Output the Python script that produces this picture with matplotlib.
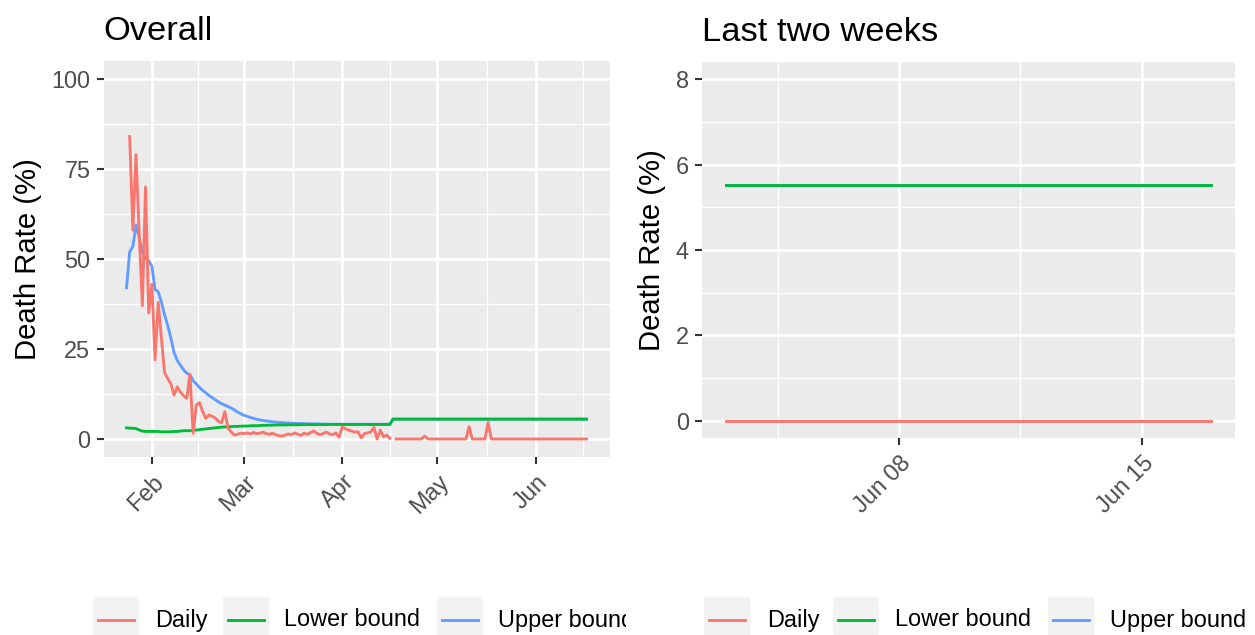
import numpy as np
import pandas as pd
import matplotlib
matplotlib.use('Agg')
import matplotlib.pyplot as plt
import matplotlib.dates as mdates
from matplotlib.patches import Rectangle
from matplotlib.lines import Line2D

plt.rcParams['font.family'] = ['Liberation Sans', 'DejaVu Sans']

nan = np.nan

# ---------- Data (Jan 24 - Jun 17 2020) ----------
dates = pd.date_range('2020-01-24', '2020-06-17', freq='D')

daily_jan = [nan, 84, 58, 79, 57, 37, 70, 35]
daily_feb = [43, 22, 38, 28, 18.5,
             16.8, 15.3, 12.2, 14.5, 13.0,
             12.0, 11.3, 18.0, 1.6, 9.4,
             10.1, 7.6, 5.7, 6.7, 6.3,
             5.8, 4.9, 4.5, 7.6, 3.0,
             2.0, 1.1, 1.3, 1.6]
daily_mar = [1.5, 1.7, 1.4, 1.8, 1.5,
             1.6, 1.9, 1.5, 1.3, 1.6,
             1.2, 0.9, 0.8, 1.1, 1.4,
             1.2, 1.7, 1.3, 1.0, 1.6,
             1.3, 1.8, 2.2, 1.6, 1.2,
             1.5, 1.9, 1.4, 1.2, 1.7,
             0.5]
daily_apr = [3.4, 2.8, 2.5, 2.2, 1.9,
             2.0, 0.3, 1.5, 1.7, 2.0,
             3.2, 0.0, 2.5, 0.6, 1.1,
             0.2, nan, 0, 0, 0,
             0, 0, 0, 0, 0,
             0, 0.8, 0, 0, 0]
daily_may = [0, 0, 0, 0, 0,
             0, 0, 0, 0, 0,
             3.4, 0, 0, 0, 0,
             0, 4.6, 0, 0, 0,
             0, 0, 0, 0, 0,
             0, 0, 0, 0, 0,
             0]
daily_jun = [0] * 17

upper_jan = [42, 52, 53.5, 59.5, 56, 52, 50.2, 49.5]
upper_feb = [48, 41.5, 40.9, 38, 34.5,
             31.5, 28, 24, 21.8, 20.5,
             19.2, 18.3, 17.8, 16.2, 15.3,
             14.3, 13.5, 12.8, 12.1, 11.5,
             10.9, 10.3, 9.8, 9.4, 9.0,
             8.6, 8.1, 7.5, 7.0]
upper_mar = [6.6, 6.3, 6.0, 5.75, 5.5,
             5.3, 5.15, 5.0, 4.9, 4.8,
             4.7, 4.6, 4.55, 4.5, 4.45,
             4.4, 4.35, 4.3, 4.3, 4.25,
             4.25, 4.2, 4.2, 4.2, 4.15,
             4.15, 4.15, 4.1, 4.1, 4.1,
             4.1]
upper_apr = [4.1] * 16 + [5.52] * 14
upper_may = [5.52] * 31
upper_jun = [5.52] * 17

lower_jan = [3.1, 3.0, 3.0, 2.9, 2.5, 2.2, 2.1, 2.1]
lower_feb = [2.1, 2.1, 2.1, 2.0, 2.0,
             2.0, 2.0, 2.1, 2.1, 2.2,
             2.3, 2.3, 2.3, 2.4, 2.5,
             2.6, 2.7, 2.8, 2.9, 3.0,
             3.1, 3.2, 3.3, 3.35, 3.4,
             3.45, 3.5, 3.5, 3.55]
lower_mar = [3.6, 3.6, 3.65, 3.7, 3.7,
             3.75, 3.8, 3.8, 3.85, 3.85,
             3.9, 3.9, 3.9, 3.9, 3.95,
             3.95, 3.95, 3.95, 4.0, 4.0,
             4.0, 4.0, 4.0, 4.0, 4.0,
             4.0, 4.0, 4.05, 4.05, 4.05,
             4.05]
lower_apr = [4.05] * 16 + [5.52] * 14
lower_may = [5.52] * 31
lower_jun = [5.52] * 17

daily = np.array(daily_jan + daily_feb + daily_mar + daily_apr + daily_may + daily_jun, dtype=float)
upper = np.array(upper_jan + upper_feb + upper_mar + upper_apr + upper_may + upper_jun, dtype=float)
lower = np.array(lower_jan + lower_feb + lower_mar + lower_apr + lower_may + lower_jun, dtype=float)

series_names = ['Daily', 'Lower bound', 'Upper bound']
colors = {'Daily': '#F8766D', 'Lower bound': '#00BA38', 'Upper bound': '#619CFF'}

W, H = 1255, 635
LW = 2.05


def px(x):
    return x / W


def py(y):
    return 1 - y / H


def style_panel(ax, title):
    ax.set_facecolor('#EBEBEB')
    for s in ax.spines.values():
        s.set_visible(False)
    ax.grid(which='major', color='white', linewidth=2.0)
    ax.grid(which='minor', color='white', linewidth=1.0)
    ax.set_axisbelow(True)
    ax.tick_params(which='major', length=5.3, width=1.5, color='#333333',
                   labelcolor='#4D4D4D', labelsize=16.9, pad=4.2)
    ax.tick_params(which='minor', length=0)
    ax.set_title(title, loc='left', fontsize=24.8, pad=15)
    ax.set_ylabel('Death Rate (%)', fontsize=21.1, labelpad=7)


def plot_lines(ax, d, dl, lo, up):
    # upper first so the lower bound covers it where they meet
    ax.plot(d, up, color=colors['Upper bound'], lw=LW, zorder=2)
    ax.plot(d, lo, color=colors['Lower bound'], lw=LW, zorder=3)
    ax.plot(d, dl, color=colors['Daily'], lw=LW, zorder=4)


def set_date_axis(ax, start, end, pad_days, majors, fmt, minor_edges):
    ticks = [mdates.date2num(t) for t in majors]
    ax.set_xticks(ticks)
    ax.set_xticklabels([t.strftime(fmt) for t in majors], rotation=45,
                       ha='right', va='top', rotation_mode='anchor')
    e = mdates.date2num(minor_edges)
    ax.set_xticks((e[:-1] + e[1:]) / 2, minor=True)
    # limits last, set_xticks would otherwise widen them
    ax.set_xlim(mdates.date2num(start - pd.Timedelta(days=pad_days)),
                mdates.date2num(end + pd.Timedelta(days=pad_days)))


def draw_legend(fig, key_x, text_x):
    for name, kx, tx in zip(series_names, key_x, text_x):
        fig.patches.append(Rectangle((px(kx), py(643)), px(46), 46 / H,
                                     transform=fig.transFigure, facecolor='#F2F2F2',
                                     edgecolor='none', zorder=1))
        fig.lines.append(Line2D([px(kx + 5), px(kx + 41)], [py(620), py(620)],
                                transform=fig.transFigure, color=colors[name],
                                lw=LW, zorder=2))
        fig.text(px(tx), py(620), name, fontsize=16.9, ha='left', va='center',
                 color='black', zorder=2)


fig = plt.figure(figsize=(W / 100, H / 100), dpi=100)

# ---------- Overall ----------
ax1 = fig.add_axes([px(103.5), py(457), px(609.5 - 103.5), (457 - 61) / H])
style_panel(ax1, 'Overall')
plot_lines(ax1, dates, daily, lower, upper)
months = pd.date_range('2020-01-01', '2020-07-01', freq='MS')
set_date_axis(ax1, dates[0], dates[-1], 7.25,
              [m for m in months if dates[0] <= m <= dates[-1]], '%b', months)
ax1.set_ylim(-5, 105)
ax1.set_yticks([0, 25, 50, 75, 100])
ax1.set_yticks([12.5, 37.5, 62.5, 87.5], minor=True)

# ---------- Last two weeks ----------
n_last = 15
d2 = dates[-n_last:]
ax2 = fig.add_axes([px(702), py(438), px(1235 - 702), (438 - 62) / H])
style_panel(ax2, 'Last two weeks')
plot_lines(ax2, d2, daily[-n_last:], lower[-n_last:], upper[-n_last:])
wk = pd.to_datetime(['2020-06-01', '2020-06-08', '2020-06-15', '2020-06-22'])
set_date_axis(ax2, d2[0], d2[-1], 0.7, [wk[1], wk[2]], '%b %d', wk)
ax2.set_ylim(-0.4, 8.4)
ax2.set_yticks([0, 2, 4, 6, 8])
ax2.set_yticks([1, 3, 5, 7], minor=True)

# ---------- Legends ----------
draw_legend(fig, [93, 222.6, 436.6], [155, 284, 497.6])
# left legend is clipped where the right plot begins
fig.patches.append(Rectangle((px(626), 0), px(703 - 626), py(585),
                             transform=fig.transFigure, facecolor='white',
                             edgecolor='none', zorder=5))
draw_legend(fig, [704, 833, 1048], [767, 895, 1110])

fig.savefig('out.png', dpi=100)
